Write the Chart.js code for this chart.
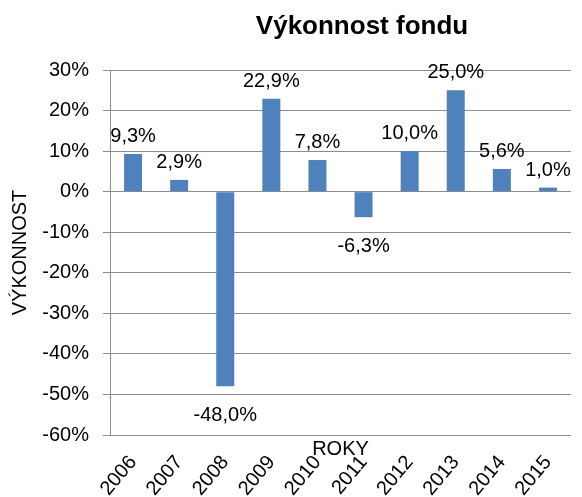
<!DOCTYPE html>
<html>
<head>
<meta charset="utf-8">
<script src="https://cdn.jsdelivr.net/npm/chart.js@4/dist/chart.umd.min.js"></script>
<style>
  body { margin: 0; background: #fff; }
  #wrap { width: 582px; height: 497px; position: relative; }
</style>
</head>
<body>
<div id="wrap"><canvas id="fundChart"></canvas></div>
<script>
// Chart data
const years = ['2006', '2007', '2008', '2009', '2010', '2011', '2012', '2013', '2014', '2015'];
const performance = [9.3, 2.9, -48.0, 22.9, 7.8, -6.3, 10.0, 25.0, 5.6, 1.0];
const yTicks = [30, 20, 10, 0, -10, -20, -30, -40, -50, -60];

const chartTitle = 'Výkonnost fondu';
const yTitle = 'VÝKONNOST';
const xTitle = 'ROKY';

const FONT = "'Liberation Sans', Arial, sans-serif";
const GRID = '#8c8c8c';

// Format value like Excel with Czech decimal comma
function formatPct(v) {
    return v.toFixed(1).replace('.', ',') + '%';
}

// Title drawn over the plot (Excel places it off-center)
const titlePlugin = {
    id: 'excelTitle',
    afterDraw(chart) {
        const c = chart.ctx;
        c.save();
        c.font = 'bold 26px ' + FONT;
        c.fillStyle = '#000';
        c.textAlign = 'center';
        c.textBaseline = 'alphabetic';
        c.fillText(chartTitle, 362, 34);
        c.restore();
    }
};

// Value labels above / below bars
const valueLabels = {
    id: 'valueLabels',
    afterDatasetsDraw(chart) {
        const c = chart.ctx;
        const meta = chart.getDatasetMeta(0);
        const yScale = chart.scales.y;
        c.save();
        c.font = '20px ' + FONT;
        c.fillStyle = '#000';
        c.textAlign = 'center';
        c.textBaseline = 'alphabetic';
        meta.data.forEach((bar, i) => {
            const v = performance[i];
            const y = v >= 0 ? yScale.getPixelForValue(v) - 12 : yScale.getPixelForValue(v) + 35;
            c.fillText(formatPct(v), bar.x, y);
        });
        c.restore();
    }
};

new Chart(document.getElementById('fundChart'), {
    type: 'bar',
    data: {
        labels: years,
        datasets: [{
            data: performance,
            backgroundColor: '#4F81BD',
            borderWidth: 0,
            categoryPercentage: 1,
            barPercentage: 0.39
        }]
    },
    options: {
        responsive: true,
        maintainAspectRatio: false,
        animation: false,
        layout: { padding: { top: 70, right: 11, left: 0, bottom: 0 } },
        plugins: {
            legend: { display: false },
            title: { display: false },
            tooltip: { enabled: false }
        },
        scales: {
            x: {
                grid: { display: false },
                border: { display: false },
                ticks: {
                    autoSkip: false,
                    minRotation: 50,
                    maxRotation: 50,
                    padding: 8,
                    color: '#000',
                    font: { family: FONT, size: 20 }
                },
                title: {
                    display: true,
                    text: xTitle,
                    color: '#000',
                    font: { family: FONT, size: 20 },
                    padding: { top: 0, bottom: 36 }
                },
                afterFit(scale) { scale.height = 62; }
            },
            y: {
                min: yTicks[yTicks.length - 1],
                max: yTicks[0],
                ticks: {
                    stepSize: 10,
                    padding: 14,
                    color: '#000',
                    font: { family: FONT, size: 20 },
                    callback: v => v + '%'
                },
                grid: { color: GRID, tickLength: 7 },
                border: { display: true, color: GRID },
                title: {
                    display: true,
                    text: yTitle,
                    color: '#000',
                    font: { family: FONT, size: 20 },
                    padding: { top: 8, bottom: 0 }
                },
                afterFit(scale) { scale.width = 110; }
            }
        }
    },
    plugins: [titlePlugin, valueLabels]
});
</script>
</body>
</html>
